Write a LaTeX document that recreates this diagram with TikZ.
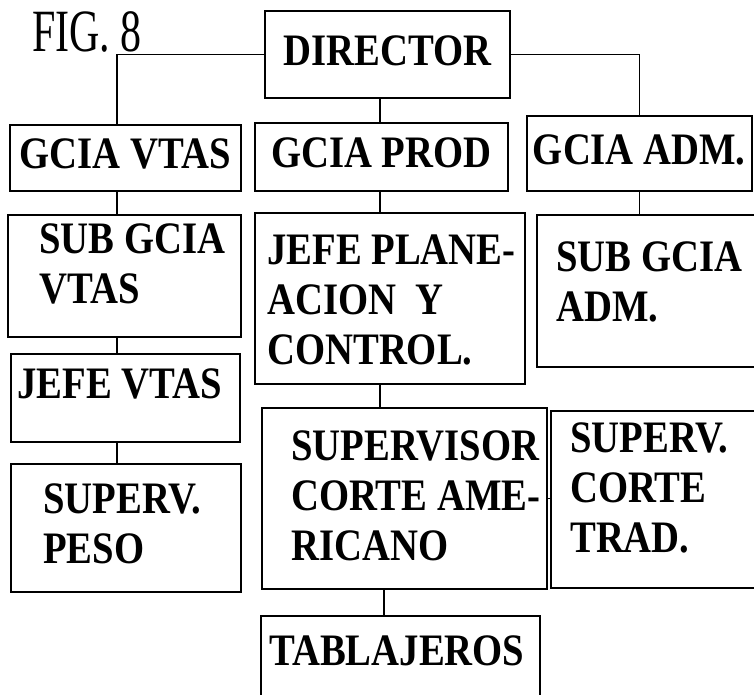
\documentclass[tikz,border=0pt]{standalone}
\usepackage{fontspec}
\newfontfamily\orgfont{Liberation Serif}[FakeStretch=0.86]
\newfontfamily\figfont{Liberation Serif}[FakeStretch=0.7]
\usetikzlibrary{positioning}

\begin{document}
\begin{tikzpicture}[x=1pt,y=-1pt,
  box/.style={draw,line width=1.6pt,inner sep=0pt,anchor=north west},
  ctr/.style={font=\orgfont\bfseries\fontsize{45}{50}\selectfont,text depth=8pt},
  lbl/.style={font=\orgfont\bfseries\fontsize{45}{50}\selectfont,align=left,inner sep=0pt},
  wire/.style={line width=1.2pt}]
  \useasboundingbox (0,0) rectangle (754,694);
  \clip (0,0) rectangle (754,694);
  \node[font=\figfont\fontsize{60}{60}\selectfont,inner sep=0pt,anchor=base west] (fig) at (32,51) {FIG.\,8};
  \coordinate (colA) at (117,0);
  \coordinate (colB) at (380,0);
  \coordinate (colC) at (384,0);
  % Top level
  \node[box,ctr,minimum width=245pt,minimum height=87pt] (dir) at (264,10) {DIRECTOR};
  \node[box,ctr,minimum width=231pt,minimum height=66pt] (gv) at (9,124) {GCIA VTAS};
  \node[box,ctr,minimum width=253pt,minimum height=68pt] (gp) at (254,122) {GCIA PROD};
  \node[box,ctr,minimum width=225pt,minimum height=75pt] (ga) at (526,115) {GCIA ADM.};
  % Second level
  \node[box,minimum width=233pt,minimum height=122pt] (sv) at (7,214) {};
  \node[lbl,below right=9pt and 32pt of sv.north west] (sv-t) {SUB GCIA\\VTAS};
  \node[box,minimum width=270pt,minimum height=171pt] (jp) at (254,212) {};
  \node[lbl,below right=23pt and 13pt of jp.north west] (jp-t) {JEFE PLANE-\\ACION\ \ Y\\CONTROL.};
  \node[box,minimum width=240pt,minimum height=152pt] (sa) at (536,214) {};
  \node[lbl,below right=27pt and 20pt of sa.north west] (sa-t) {SUB GCIA\\ADM.};
  % Sales line
  \node[box,minimum width=229pt,minimum height=88pt] (jv) at (10,353) {};
  \node[lbl,below right=15pt and 7pt of jv.north west] (jv-t) {JEFE VTAS};
  \node[box,minimum width=230pt,minimum height=128pt] (sp) at (10,463) {};
  \node[lbl,below right=20pt and 33pt of sp.north west] (sp-t) {SUPERV.\\PESO};
  % Production line
  \node[box,minimum width=285pt,minimum height=181pt] (sca) at (261,407) {};
  \node[lbl,below right=23pt and 30pt of sca.north west] (sca-t) {SUPERVISOR\\CORTE AME-\\RICANO};
  \node[box,minimum width=230pt,minimum height=177pt] (sct) at (550,410) {};
  \node[lbl,below right=12pt and 20pt of sct.north west] (sct-t) {SUPERV.\\CORTE\\TRAD.};
  \node[box,minimum width=279pt,minimum height=120pt] (tab) at (260,615) {};
  \node[lbl,below right=20pt and 9pt of tab.north west] (tab-t) {TABLAJEROS};
  % Connectors
  \draw[wire] (dir.west) -| (gv.north -| colA);
  \draw[wire] (dir.east) -| (ga.north);
  \draw[wire] (dir.south -| colB) -- (gp.north -| colB);
  \draw[wire] (gv.south -| colA) -- (sv.north -| colA);
  \draw[wire] (gp.south -| colB) -- (jp.north -| colB);
  \draw[wire] (ga.south) -- (ga.south |- sa.north);
  \draw[wire] (sv.south -| colA) -- (jv.north -| colA);
  \draw[wire] (jv.south -| colA) -- (sp.north -| colA);
  \draw[wire] (jp.south -| colB) -- (sca.north -| colB);
  \draw[wire] (sca.south -| colC) -- (tab.north -| colC);
  \draw[wire] (sca.east) -- (sca.east -| sct.west);
\end{tikzpicture}
\end{document}
